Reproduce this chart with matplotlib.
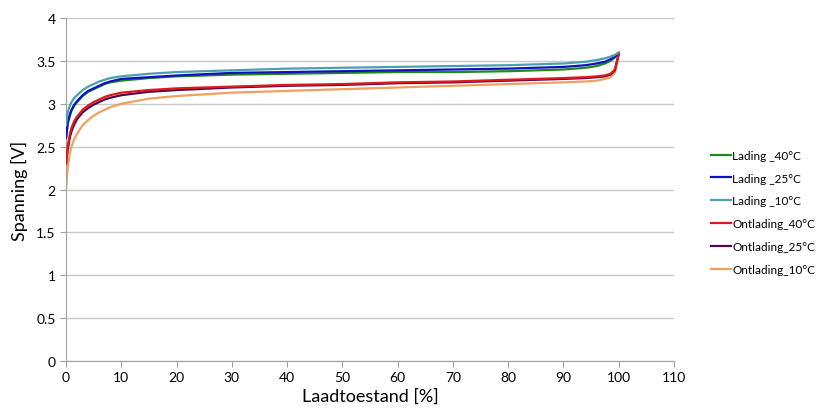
import matplotlib
matplotlib.use("Agg")
import matplotlib.pyplot as plt

# state of charge [%] sample points
soc = [0, 0.3, 0.7, 1, 1.5, 2, 3, 4, 5, 6, 7, 8, 10, 15, 20, 30, 40, 50, 60, 70, 80, 90, 94, 96, 97.5, 98.5, 99.3, 100]

lading_40 = [2.60, 2.76, 2.86, 2.92, 2.98, 3.02, 3.09, 3.14, 3.17, 3.20, 3.23, 3.25, 3.27, 3.30, 3.32, 3.34, 3.35, 3.36, 3.37, 3.37, 3.38, 3.40, 3.42, 3.44, 3.47, 3.50, 3.54, 3.59]
lading_25 = [2.60, 2.78, 2.88, 2.93, 2.99, 3.03, 3.10, 3.15, 3.18, 3.21, 3.24, 3.26, 3.29, 3.31, 3.33, 3.36, 3.37, 3.38, 3.39, 3.40, 3.41, 3.43, 3.45, 3.47, 3.49, 3.52, 3.55, 3.59]
lading_10 = [2.75, 2.90, 2.98, 3.02, 3.07, 3.10, 3.16, 3.20, 3.23, 3.26, 3.28, 3.30, 3.32, 3.35, 3.37, 3.39, 3.41, 3.42, 3.43, 3.44, 3.45, 3.47, 3.49, 3.51, 3.53, 3.55, 3.57, 3.60]
ontlading_40 = [2.30, 2.50, 2.65, 2.72, 2.80, 2.85, 2.93, 2.98, 3.02, 3.05, 3.08, 3.10, 3.13, 3.16, 3.18, 3.20, 3.22, 3.23, 3.25, 3.26, 3.28, 3.30, 3.31, 3.32, 3.33, 3.35, 3.40, 3.58]
ontlading_25 = [2.30, 2.46, 2.61, 2.68, 2.76, 2.82, 2.90, 2.95, 2.99, 3.02, 3.05, 3.07, 3.10, 3.14, 3.16, 3.19, 3.21, 3.22, 3.24, 3.25, 3.27, 3.29, 3.30, 3.31, 3.32, 3.34, 3.39, 3.58]
ontlading_10 = [2.00, 2.25, 2.42, 2.50, 2.59, 2.65, 2.75, 2.81, 2.86, 2.90, 2.93, 2.96, 3.00, 3.06, 3.09, 3.13, 3.15, 3.17, 3.19, 3.21, 3.23, 3.25, 3.26, 3.27, 3.29, 3.31, 3.36, 3.60]

labels = ["Lading _40°C", "Lading _25°C", "Lading _10°C",
          "Ontlading_40°C", "Ontlading_25°C", "Ontlading_10°C"]
colors = ["#1e8a1e", "#1010c0", "#4aa0b0", "#e01818", "#4a0a50", "#f0a060"]
series = [lading_40, lading_25, lading_10, ontlading_40, ontlading_25, ontlading_10]
layer = [2, 3, 4, 3, 2, 1]  # red sits over purple, blue over green

plt.rcParams["font.family"] = ["Lato", "DejaVu Sans"]

fig = plt.figure(figsize=(8.18, 4.14), dpi=100)
ax = fig.add_axes([0.0807, 0.1256, 0.7433, 0.8284])

for y, c, lab, z in zip(series, colors, labels, layer):
    ax.plot(soc, y, color=c, lw=1.6, label=lab, zorder=z)

ax.set_xlim(0, 110)
ax.set_ylim(0, 4)
ax.set_xticks(range(0, 111, 10))
ax.set_yticks([0, 0.5, 1, 1.5, 2, 2.5, 3, 3.5, 4])
ax.set_yticklabels(["0", "0.5", "1", "1.5", "2", "2.5", "3", "3.5", "4"])
ax.grid(axis="y", color="#c8c8c8", lw=1)
ax.set_axisbelow(True)
for s in ["top", "right"]:
    ax.spines[s].set_visible(False)
for s in ["left", "bottom"]:
    ax.spines[s].set_color("#a0a0a0")
ax.tick_params(colors="#a0a0a0", labelcolor="black", labelsize=10, length=4)

ax.set_xlabel("Laadtoestand [%]", fontsize=13, labelpad=3)
ax.set_ylabel("Spanning [V]", fontsize=13, labelpad=6)

fig.legend(loc="center left", bbox_to_anchor=(0.862, 0.485),
           frameon=False, fontsize=8.5, handlelength=1.7, handletextpad=0.1,
           labelspacing=1.0, borderpad=0)

fig.savefig("out.png", dpi=100)
